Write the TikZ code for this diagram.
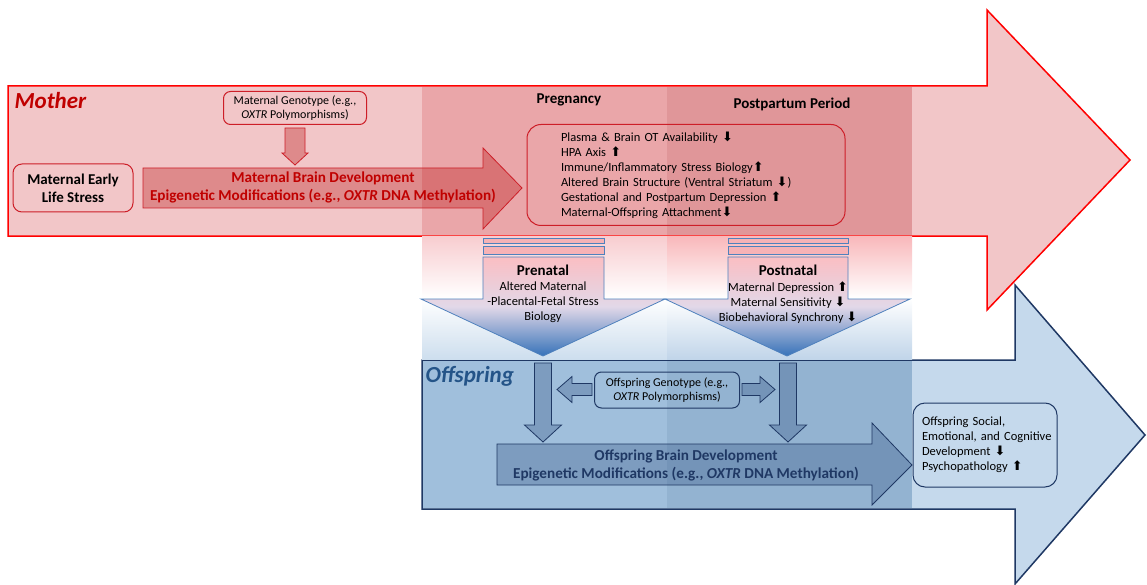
\documentclass[tikz,border=0pt]{standalone}
\usepackage{fontspec}
\setmainfont{Carlito}
\newfontfamily\symfont{DejaVu Sans}
\usetikzlibrary{positioning}

\definecolor{momred}{RGB}{255,0,0}
\definecolor{momfill}{RGB}{242,198,200}
\definecolor{pregred}{RGB}{234,166,169}
\definecolor{postred}{RGB}{224,150,153}
\definecolor{darkred}{RGB}{192,0,0}
\definecolor{boxred}{RGB}{205,30,40}
\definecolor{kidnavy}{RGB}{31,56,100}
\definecolor{kidfill}{RGB}{197,217,236}
\definecolor{pregblue}{RGB}{160,191,220}
\definecolor{postblue}{RGB}{147,179,209}
\definecolor{kidblue}{RGB}{36,84,136}
\definecolor{steel}{RGB}{79,129,189}
\definecolor{gpink}{RGB}{248,205,208}
\definecolor{gblue}{RGB}{205,222,238}
\definecolor{arrpink}{RGB}{250,190,195}
\definecolor{barpink}{RGB}{246,178,182}
\definecolor{arrmid}{RGB}{226,216,232}
\definecolor{arrblue}{RGB}{55,115,185}

\newcommand{\arrup}{{\symfont\fontsize{13}{13}\selectfont ⬆}}
\newcommand{\arrdn}{{\symfont\fontsize{13}{13}\selectfont ⬇}}

\begin{document}
\begin{tikzpicture}[x=1pt, y=-1pt,
        redbox/.style={
            rectangle, draw=boxred, line width=1pt, rounded corners=7pt, align=center,
            inner sep=2pt, font=\fontsize{12}{14.5}\selectfont
        },
        bluebox/.style={
            rectangle, draw=kidnavy, line width=1pt, rounded corners=7pt, align=center,
            inner sep=2pt, font=\fontsize{12}{14.5}\selectfont
        },
        redblock/.style={draw=boxred, line width=0.8pt, fill=red!70!black, fill opacity=0.3},
        blueblock/.style={draw=kidnavy, line width=0.8pt, fill=kidnavy!70!steel, fill opacity=0.3},
        barblock/.style={draw=steel, line width=0.8pt, fill=barpink},
        gradblock/.style={draw=steel, line width=0.8pt, top color=arrpink, bottom color=arrblue, middle color=arrmid},
        period/.style={font=\bfseries\fontsize{15}{18}\selectfont},
        sub/.style={inner sep=0pt, align=center, font=\fontsize{12.5}{15}\selectfont},
        who/.style={font=\bfseries\itshape\fontsize{23}{27}\selectfont},
        brain/.style={align=center, font=\bfseries\fontsize{15.2}{18}\selectfont}
    ]
        \useasboundingbox (0,0) rectangle (1147,585);

        % Big arrows
        \draw[momred, fill=momfill, line width=1.5pt]
            (8,86) -- (987,86) -- (987,10) -- (1130,160) -- (987,310) -- (987,236) -- (8,236) -- cycle;
        \draw[kidnavy, fill=kidfill, line width=1.5pt]
            (422,360) -- (1015,360) -- (1015,285) -- (1145,435) -- (1015,584) -- (1015,509) -- (422,509) -- cycle;

        % Pregnancy and postpartum columns
        \fill[pregred] (422,86.8) rectangle (667,235.2);
        \fill[postred] (667,86.8) rectangle (912,235.2);
        \shade[top color=gpink, bottom color=gblue, middle color=white] (422,236.8) rectangle (667,359.2);
        \shade[top color=gpink!90!red, bottom color=gblue!90!steel, middle color=white] (667,236.8) rectangle (912,359.2);
        \fill[pregblue] (422.8,360.8) rectangle (667,508.2);
        \fill[postblue] (667,360.8) rectangle (912,508.2);

        % Mother
        \node[who, text=darkred, anchor=west] (mother) at (11,101) {Mother};
        \node[redbox, minimum width=143pt, minimum height=33pt] (mgeno) at (295,108)
            {Maternal Genotype (e.g.,\\ \textit{OXTR} Polymorphisms)};
        \node[redbox, font=\bfseries\fontsize{15}{18}\selectfont, minimum width=120pt,
            minimum height=48pt, rounded corners=9pt] (mels) at (73,188) {Maternal Early\\Life Stress};

        \draw[redblock] (143,168) -- (483,168) -- (483,148) -- (522,188) -- (483,229) -- (483,208) -- (143,208) -- cycle;
        \node[brain, text=darkred] (mbd) at (323,187)
            {Maternal Brain Development\\Epigenetic Modifications (e.g., \textit{OXTR} DNA Methylation)};
        \draw[redblock] ([xshift=-10pt,yshift=-3pt]mgeno.south) -- ++(0,25) -- ++(-3,0) -- ++(13,12)
            -- ++(13,-12) -- ++(-3,0) -- ++(0,-25) -- cycle;

        \node[period] (preg) at (569,100) {Pregnancy};
        \node[period] (post) at (792,104) {Postpartum Period};

        \node[redbox, align=left, text width=250pt, inner xsep=34pt, minimum height=101pt,
            rounded corners=14pt, font=\fontsize{12.5}{15}\selectfont] (mlist) at (686,175)
            {Plasma \& Brain OT Availability \arrdn\\
             HPA Axis \arrup\\
             Immune/Inflammatory Stress Biology\arrup\\
             Altered Brain Structure (Ventral Striatum \arrdn)\\
             Gestational and Postpartum Depression \arrup\\
             Maternal-Offspring Attachment\arrdn};

        % Prenatal and postnatal arrows
        \draw[barblock] (483,238) rectangle (604,243);
        \draw[barblock] (483,246) rectangle (604,254);
        \draw[gradblock] (483,257) -- (483,299) -- (421,299) -- (543,356) -- (665,299) -- (604,299) -- (604,257) -- cycle;
        \coordinate (prentip) at (543,356);
        \node[period] (pren) at (543,270) {Prenatal};
        \node[sub, below=3pt of pren] (prentext) {Altered Maternal\\-Placental-Fetal Stress\\Biology};

        \draw[barblock] (728,238) rectangle (848,243);
        \draw[barblock] (728,246) rectangle (848,254);
        \draw[gradblock] (728,257) -- (728,299) -- (665,299) -- (787,356) -- (910,299) -- (848,299) -- (848,257) -- cycle;
        \coordinate (posttip) at (787,356);
        \node[period] (postn) at (788,270) {Postnatal};
        \node[sub, below=3pt of postn] (posttext)
            {Maternal Depression \arrup\\Maternal Sensitivity \arrdn\\Biobehavioral Synchrony \arrdn};

        % Offspring
        \node[who, text=kidblue, anchor=west] (offspring) at (422,376) {Offspring};
        \node[bluebox, minimum width=145pt, minimum height=36pt] (ogeno) at (667,390)
            {Offspring Genotype (e.g.,\\ \textit{OXTR} Polymorphisms)};

        \draw[blueblock] (497,444) -- (872,444) -- (872,423) -- (912,465) -- (872,505) -- (872,485) -- (497,485) -- cycle;
        \node[brain, text=kidnavy] (obd) at (686,465)
            {Offspring Brain Development\\Epigenetic Modifications (e.g., \textit{OXTR} DNA Methylation)};

        \draw[blueblock] ([xshift=-8.5pt,yshift=-7pt]prentip) -- ++(0,62) -- ++(-10,0) -- ++(18.5,17)
            -- ++(18.5,-17) -- ++(-10,0) -- ++(0,-62) -- cycle;
        \draw[blueblock] ([xshift=-7.5pt,yshift=-7pt]posttip) -- ++(0,62) -- ++(-10,0) -- ++(18.5,17)
            -- ++(18.5,-17) -- ++(-10,0) -- ++(0,-62) -- cycle;
        \draw[blueblock] ([xshift=-2pt,yshift=6.5pt]ogeno.west) -- ++(-20,0) -- ++(0,-7) -- ++(-15,13)
            -- ++(15,13) -- ++(0,-7) -- ++(20,0) -- cycle;
        \draw[blueblock] ([xshift=2pt,yshift=6.5pt]ogeno.east) -- ++(18,0) -- ++(0,-7) -- ++(15,13)
            -- ++(-15,13) -- ++(0,-7) -- ++(-18,0) -- cycle;

        \node[bluebox, align=left, text width=138pt, inner xsep=3pt, minimum height=84pt,
            rounded corners=12pt, font=\fontsize{12.5}{15}\selectfont] (oout) at (985,445)
            {\hspace*{6pt}Offspring Social,\\\hspace*{6pt}Emotional, and Cognitive\\
             \hspace*{6pt}Development \arrdn\\\hspace*{6pt}Psychopathology \arrup};

    \end{tikzpicture}
\end{document}
